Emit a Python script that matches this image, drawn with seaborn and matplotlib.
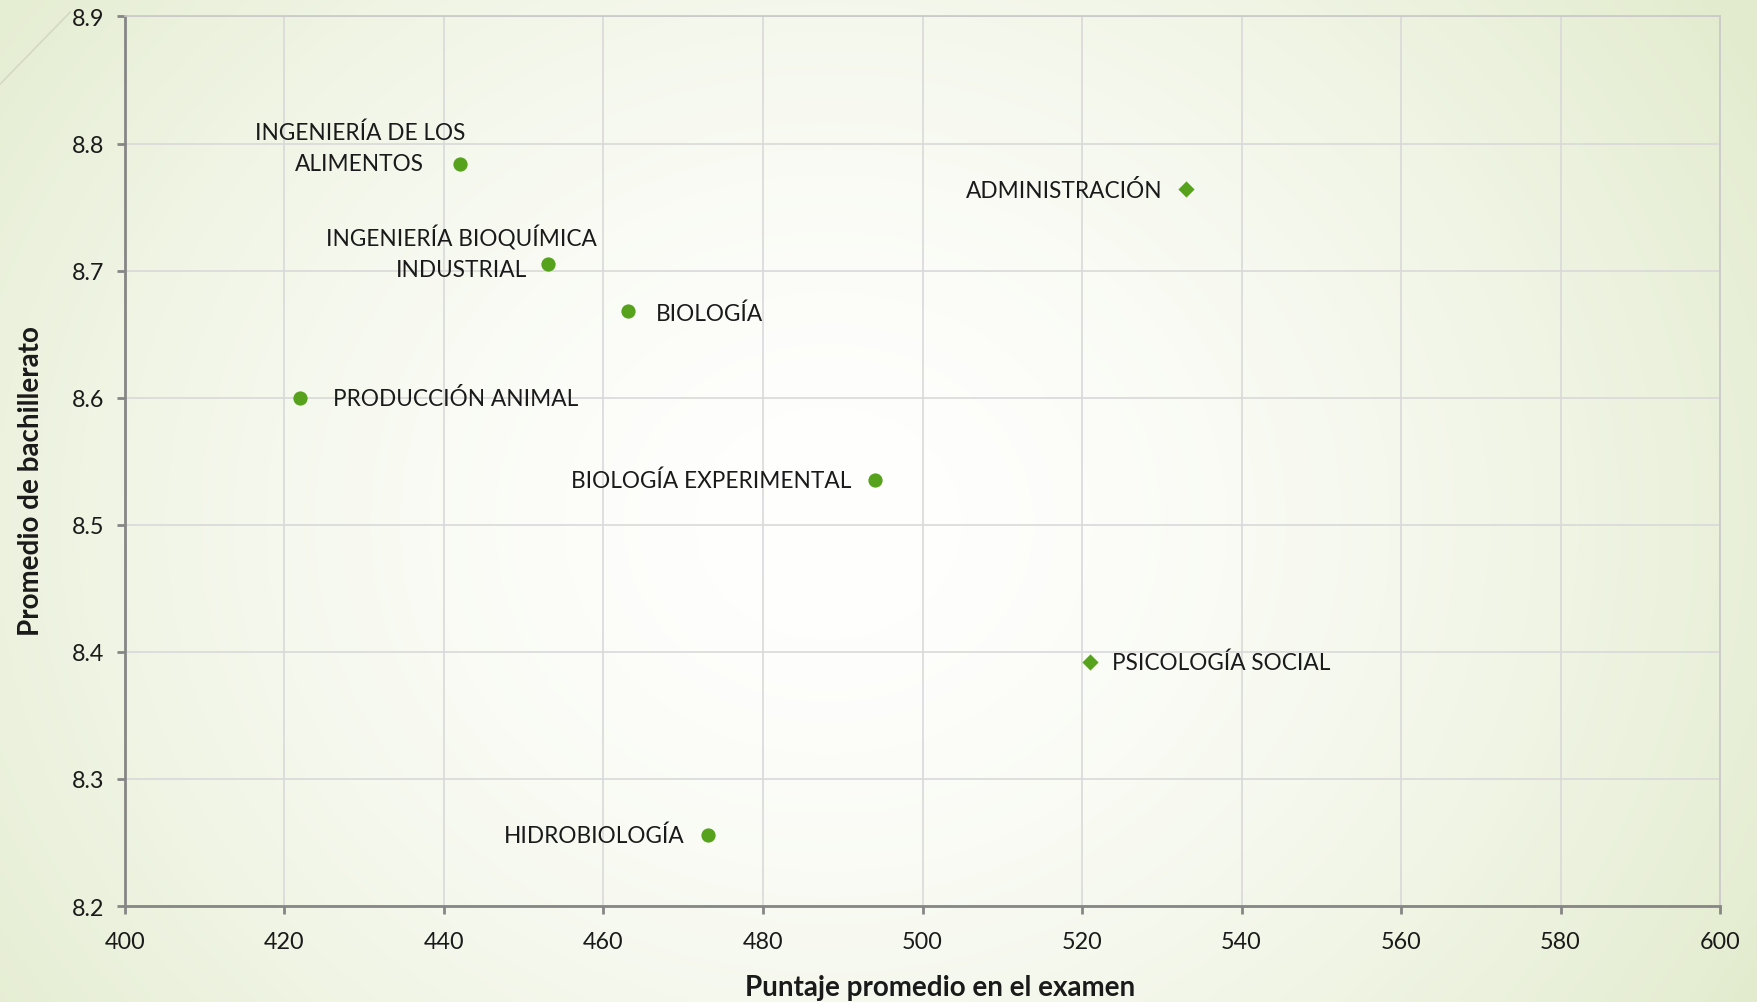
import numpy as np
import pandas as pd
import matplotlib
matplotlib.use("Agg")
import matplotlib.pyplot as plt
import seaborn as sns
from matplotlib.lines import Line2D

# ---- data ----
carreras = ["INGENIERÍA DE LOS\nALIMENTOS", "ADMINISTRACIÓN", "INGENIERÍA BIOQUÍMICA\nINDUSTRIAL",
            "BIOLOGÍA", "PRODUCCIÓN ANIMAL", "BIOLOGÍA EXPERIMENTAL",
            "PSICOLOGÍA SOCIAL", "HIDROBIOLOGÍA"]
puntaje = [442.0, 533.0, 453.0, 463.1, 421.9, 494.0, 521.0, 473.1]
promedio = [8.784, 8.764, 8.705, 8.668, 8.600, 8.535, 8.392, 8.256]
grupo = ["circulo", "diamante", "circulo", "circulo", "circulo", "circulo", "diamante", "circulo"]
x_ticks = [400, 420, 440, 460, 480, 500, 520, 540, 560, 580, 600]
y_ticks = [8.2, 8.3, 8.4, 8.5, 8.6, 8.7, 8.8, 8.9]

# label offsets in pixels (dx, dy, ha)
offsets = [(-100, 16, "center"), (-23, -1, "right"), (-86, 12, "center"), (28, -2, "left"),
           (33, 0, "left"), (-23, 0, "right"), (22, 0, "left"), (-23, 0, "right")]

df = pd.DataFrame({"carrera": carreras, "puntaje": puntaje, "promedio": promedio, "grupo": grupo})

sns.set_theme(style="white")
plt.rcParams["font.family"] = ["Lato", "DejaVu Sans"]

GREEN = "#56a21c"
fig = plt.figure(figsize=(17.57, 10.03), dpi=100)

# background gradient
bg = fig.add_axes([0, 0, 1, 1], zorder=-10)
H, W = 200, 350
yy, xx = np.mgrid[0:H, 0:W]
cx, cy = W * 0.47, H * 0.52
r = np.sqrt(((xx - cx) / (W * 0.62)) ** 2 + ((yy - cy) / (H * 0.95)) ** 2)
t = np.clip(r, 0, 1) ** 1.6
c0 = np.array([0xff, 0xff, 0xfe]) / 255
c1 = np.array([0xe2, 0xeb, 0xcd]) / 255
img = c0[None, None, :] * (1 - t[..., None]) + c1[None, None, :] * t[..., None]
bg.imshow(img, aspect="auto", extent=[0, 1, 0, 1], interpolation="bilinear")
bg.axis("off")

# decorative diagonal line
fig.add_artist(Line2D([0.0, 0.04], [0.915, 0.987], transform=fig.transFigure,
                      color="#d4d9c4", lw=1.2))

ax = fig.add_axes([0.0711, 0.0957, 0.9079, 0.8869])
ax.set_facecolor("none")

circ = df[df["grupo"] == "circulo"]
diam = df[df["grupo"] == "diamante"]
sns.scatterplot(data=circ, x="puntaje", y="promedio", marker="o", color=GREEN,
                s=105, linewidth=0, ax=ax, legend=False, zorder=5)
sns.scatterplot(data=diam, x="puntaje", y="promedio", marker="D", color=GREEN,
                s=68, linewidth=0, ax=ax, legend=False, zorder=5)

for i, row in df.iterrows():
    dx, dy, ha = offsets[i]
    ax.annotate(row["carrera"], (row["puntaje"], row["promedio"]),
                xytext=(dx, dy), textcoords="offset pixels",
                ha=ha, va="center", multialignment="center",
                fontsize=16.3, color="#1a1a1a", linespacing=1.6, zorder=6)

ax.set_xlim(400, 600)
ax.set_ylim(8.2, 8.9)
ax.set_xticks(x_ticks)
ax.set_yticks(y_ticks)
ax.set_xticklabels([str(v) for v in x_ticks])
ax.set_yticklabels([f"{v:.1f}" for v in y_ticks])
ax.grid(True, color="#d9d9d9", lw=1.2)
ax.set_axisbelow(True)

for s in ["top", "right"]:
    ax.spines[s].set_color("#c8c8c8")
    ax.spines[s].set_linewidth(1.2)
for s in ["left", "bottom"]:
    ax.spines[s].set_color("#868686")
    ax.spines[s].set_linewidth(2)

ax.tick_params(axis="both", which="major", direction="out", length=6, width=2,
               color="#868686", labelsize=16.8, labelcolor="#1a1a1a", pad=9)
ax.tick_params(axis="x", pad=12)
ax.tick_params(bottom=True, left=True)

ax.set_xlabel("Puntaje promedio en el examen", fontsize=20, fontweight="bold",
              color="#1a1a1a", labelpad=16)
ax.set_ylabel("Promedio de bachillerato", fontsize=20, fontweight="bold",
              color="#1a1a1a", labelpad=20)
ax.xaxis.label.set_x(0.511)
ax.yaxis.label.set_y(0.4785)

fig.savefig("out.png", dpi=100)
